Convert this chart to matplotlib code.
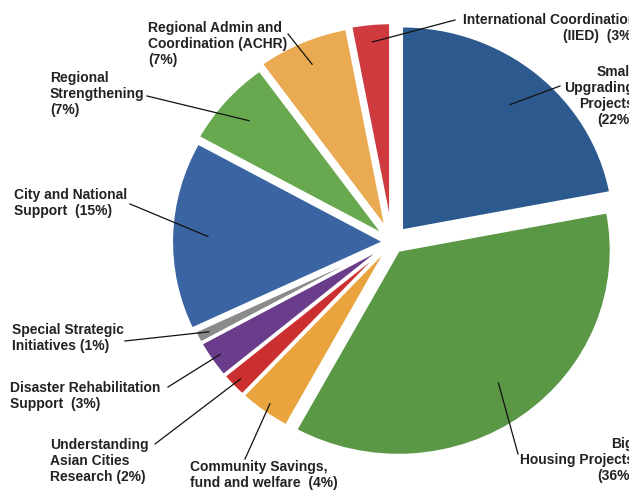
import matplotlib
matplotlib.use("Agg")
import matplotlib.pyplot as plt
import numpy as np

# ---- data ----
categories = [
    "Small Upgrading Projects",
    "Big Housing Projects",
    "Community Savings, fund and welfare",
    "Understanding Asian Cities Research",
    "Disaster Rehabilitation Support",
    "Special Strategic Initiatives",
    "City and National Support",
    "Regional Strengthening",
    "Regional Admin and Coordination (ACHR)",
    "International Coordination (IIED)",
]
values = [22, 36, 4, 2, 3, 1, 15, 7, 7, 3]
label_texts = [
    "Small\nUpgrading\nProjects\n(22%)",
    "Big\nHousing Projects\n(36%)",
    "Community Savings,\nfund and welfare  (4%)",
    "Understanding\nAsian Cities\nResearch (2%)",
    "Disaster Rehabilitation\nSupport  (3%)",
    "Special Strategic\nInitiatives (1%)",
    "City and National\nSupport  (15%)",
    "Regional\nStrengthening\n(7%)",
    "Regional Admin and\nCoordination (ACHR)\n(7%)",
    "International Coordination\n(IIED)  (3%)",
]
colors = ["#2D5A8E", "#5A9846", "#E9A43E", "#CB2F30", "#6A3C8C",
          "#8A8A8A", "#3A64A2", "#68A84E", "#E9AA52", "#CF3A3E"]

# ---- layout (pixels) ----
W, H = 629, 502
RX_PX, RY_PX = 213.0, 205.0
CX, CY = 392.0, 243.0

def px(x, y):
    return ((x - CX) / RX_PX, (CY - y) / RY_PX)

explode = [0.07, 0.05, 0.025, 0.025, 0.025, 0.025, 0.035, 0.045, 0.065, 0.07]
# text anchor (x, y-center, ha), line end point, pointer radius fraction
text_pos = [(634, 96, "right"), (634, 460, "right"), (190, 475, "left"),
            (50, 461, "left"), (10, 396, "left"), (12, 338, "left"),
            (14, 203, "left"), (50, 94, "left"), (148, 44, "left"),
            (636, 28, "right")]
line_end = [(560, 87), (518, 455), (245, 460), (155, 445), (168, 388),
            (125, 342), (130, 205), (147, 97), (288, 35), (455, 21)]
ptr_r = [0.8, 0.8, 0.95, 0.95, 0.95, 0.94, 0.83, 0.85, 0.88, 0.91]

fig = plt.figure(figsize=(W / 100, H / 100), dpi=100)
ax = fig.add_axes([0, 0, 1, 1])
wedges, _ = ax.pie(values, colors=colors, startangle=90, counterclock=False,
                   explode=explode, radius=1.0,
                   wedgeprops=dict(edgecolor="white", linewidth=2.2))
ax.set_xlim(-CX / RX_PX, (W - CX) / RX_PX)
ax.set_ylim(-(H - CY) / RY_PX, CY / RY_PX)
ax.set_aspect("auto")
ax.axis("off")

for w, txt, tp, le, rf in zip(wedges, label_texts, text_pos, line_end, ptr_r):
    th = np.deg2rad((w.theta1 + w.theta2) / 2)
    cx, cy = w.center
    x0, y0 = cx + rf * np.cos(th), cy + rf * np.sin(th)
    x1, y1 = px(*le)
    ax.plot([x0, x1], [y0, y1], color="#111111", lw=0.9)
    tx, ty = px(tp[0], tp[1])
    ax.text(tx, ty, txt, ha=tp[2], va="center", multialignment=tp[2],
            fontsize=10, fontweight="bold", color="#222222",
            family="Liberation Sans", linespacing=1.2)

fig.savefig("out.png", dpi=100)
